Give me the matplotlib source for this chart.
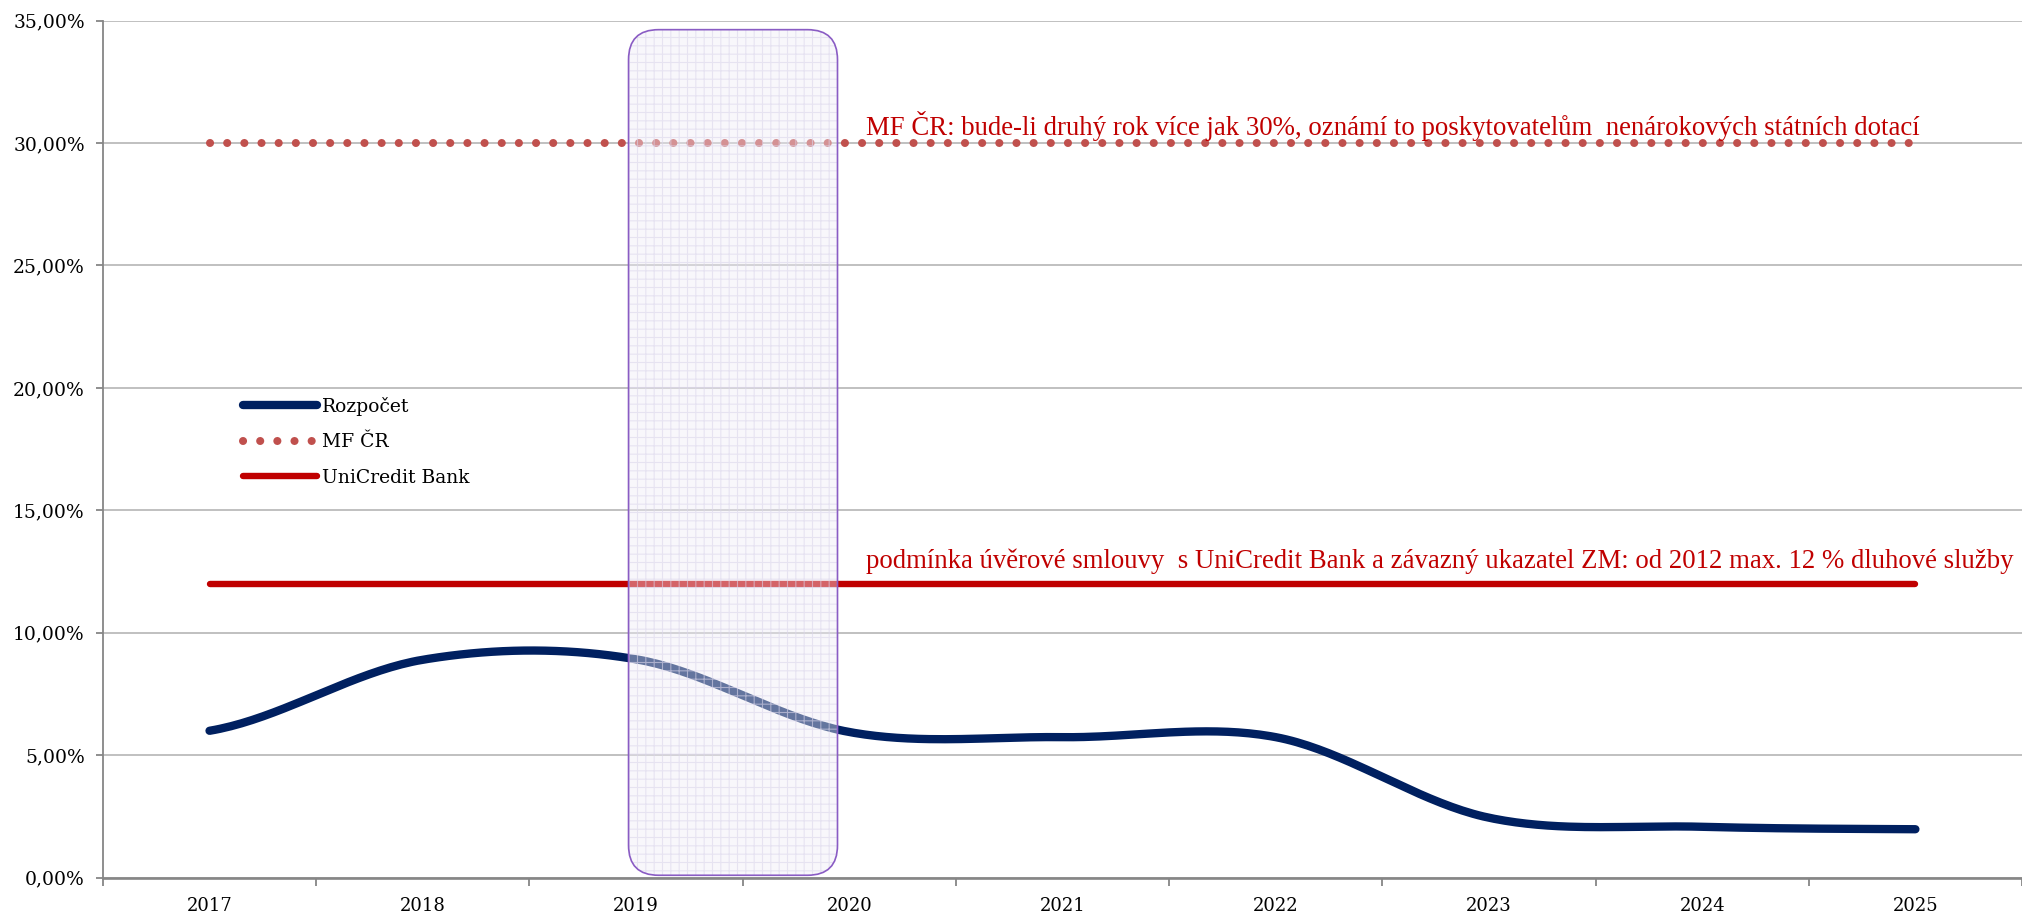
import numpy as np
import matplotlib.pyplot as plt
from matplotlib.patches import FancyBboxPatch
from matplotlib.transforms import IdentityTransform

# data (hodnoty v %)
years = ['2017', '2018', '2019', '2020', '2021', '2022', '2023', '2024', '2025']
rozpocet = [6.00, 8.90, 8.92, 5.95, 5.74, 5.74, 2.45, 2.08, 1.98]
mf_cr = [30.0, 30.0, 30.0, 30.0, 30.0, 30.0, 30.0, 30.0, 30.0]
unicredit = [12.0, 12.0, 12.0, 12.0, 12.0, 12.0, 12.0, 12.0, 12.0]
highlight = ('2019', '2020')
y_ticks = [0, 5, 10, 15, 20, 25, 30, 35]

txt_mf = 'MF ČR: bude-li druhý rok více jak 30%, oznámí to poskytovatelům  nenárokových státních dotací'
txt_uc = 'podmínka úvěrové smlouvy  s UniCredit Bank a závazný ukazatel ZM: od 2012 max. 12 % dluhové služby'

navy = '#002060'
dots = '#c0504d'
red = '#c00000'

plt.rcParams['hatch.linewidth'] = 0.8


def smooth(y, n=40):
    # vyhlazení jako v Excelu (Catmull-Rom)
    p = np.asarray(y, float)
    ext = np.concatenate(([p[0]], p, [p[-1]]))
    xs, ys = [], []
    for i in range(len(p) - 1):
        p0, p1, p2, p3 = ext[i], ext[i + 1], ext[i + 2], ext[i + 3]
        t = np.linspace(0, 1, n, endpoint=False)
        v = 0.5 * (2 * p1 + (-p0 + p2) * t + (2 * p0 - 5 * p1 + 4 * p2 - p3) * t ** 2
                   + (-p0 + 3 * p1 - 3 * p2 + p3) * t ** 3)
        xs.append(i + t)
        ys.append(v)
    xs.append([len(p) - 1])
    ys.append([p[-1]])
    return np.concatenate(xs), np.concatenate(ys)


x = np.arange(len(years))

fig = plt.figure(figsize=(20.22, 9.16), dpi=100)
ax = fig.add_axes([0.0509, 0.0418, 0.9491, 0.9357])

sx, sy = smooth(rozpocet)
ax.plot(sx, sy, color=navy, lw=6, solid_capstyle='round', label='Rozpočet', zorder=3)
ax.plot(x, mf_cr, color=dots, lw=5.8, linestyle=(0, (0.01, 2.12)), dash_capstyle='round',
        label='MF ČR', zorder=3)
ax.plot(x, unicredit, color=red, lw=4.6, solid_capstyle='round', label='UniCredit Bank', zorder=3)

ax.set_xlim(-0.5, len(years) - 0.5)
ax.set_ylim(0, 35)

ax.set_xticks(np.arange(len(years) + 1) - 0.5)
ax.set_xticklabels([])
ax.set_xticks(x, minor=True)
ax.set_xticklabels(years, minor=True, fontsize=13, family='DejaVu Serif')
ax.tick_params(axis='x', which='major', length=6, width=1.3, color='#868686', direction='out')
ax.tick_params(axis='x', which='minor', length=0, pad=14)

ax.set_yticks(y_ticks)
ax.set_yticklabels([f'{v:.2f}%'.replace('.', ',') for v in y_ticks], fontsize=13.5,
                   family='DejaVu Serif')
ax.tick_params(axis='y', length=5, width=1.3, color='#868686', pad=8)

ax.grid(axis='y', color='#c0c0c0', lw=1.4)
ax.set_axisbelow(True)
for s in ['top', 'right']:
    ax.spines[s].set_visible(False)
ax.spines['left'].set_color('#868686')
ax.spines['left'].set_linewidth(1.3)
ax.spines['bottom'].set_color('#868686')
ax.spines['bottom'].set_linewidth(1.9)

ax.legend(loc='upper left', bbox_to_anchor=(0.073, 0.561), frameon=False,
          prop={'family': 'DejaVu Serif', 'size': 13.5}, handlelength=3.95,
          handletextpad=0.27, labelspacing=0.93, borderpad=0, borderaxespad=0)

ax.text(3.08, 30.34, txt_mf, color=red, fontsize=19.3, family='Liberation Serif',
        ha='left', va='baseline')
ax.text(3.08, 12.65, txt_uc, color=red, fontsize=19.3, family='Liberation Serif',
        ha='left', va='baseline')

# zvýrazněné období
i0 = years.index(highlight[0]) - 0.035
i1 = years.index(highlight[1]) - 0.055
(x0, y0) = ax.transData.transform((i0, 0.1))
(x1, y1) = ax.transData.transform((i1, 34.63))
shade = FancyBboxPatch((x0, y0), x1 - x0, y1 - y0, boxstyle='round,pad=0,rounding_size=30',
                       transform=IdentityTransform(), facecolor=(0.94, 0.93, 0.97, 0.42),
                       edgecolor=(0.86, 0.84, 0.92, 0.6), hatch='++', lw=0, zorder=2)
fig.add_artist(shade)
border = FancyBboxPatch((x0, y0), x1 - x0, y1 - y0, boxstyle='round,pad=0,rounding_size=30',
                        transform=IdentityTransform(), facecolor='none',
                        edgecolor='#8a5cc4', lw=1.2, zorder=3)
fig.add_artist(border)

plt.savefig('out.png', dpi=100)
